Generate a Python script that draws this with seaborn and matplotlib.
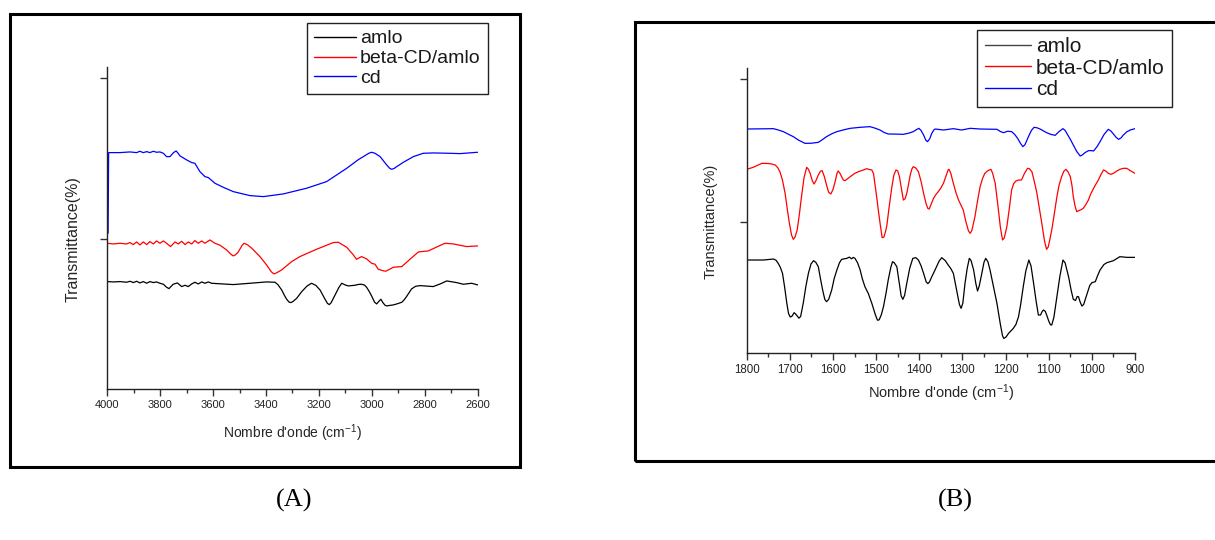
import matplotlib
matplotlib.use("Agg")
import matplotlib.pyplot as plt
from matplotlib.patches import Rectangle
from matplotlib.lines import Line2D
from matplotlib.ticker import MultipleLocator
import pandas as pd
import seaborn as sns

# ---------------- FTIR spectra, panel A (4000-2600 cm-1) ----------------
a_wn_amlo = [4000, 3977, 3952, 3927, 3914, 3902, 3889, 3877, 3864, 3851, 3839, 3826, 3814,
             3801, 3788, 3776, 3767, 3751, 3735, 3719, 3706, 3694, 3681, 3669, 3656, 3643,
             3631, 3618, 3606, 3587, 3524, 3461, 3398, 3366, 3355, 3341, 3330, 3322, 3313,
             3306, 3298, 3284, 3265, 3245, 3228, 3212, 3196, 3185, 3177, 3168, 3161, 3154,
             3139, 3125, 3114, 3100, 3089, 3064, 3050, 3039, 3028, 3020, 3010, 3001, 2990,
             2982, 2975, 2966, 2958, 2950, 2944, 2930, 2919, 2903, 2887, 2878, 2869, 2850,
             2835, 2818, 2768, 2740, 2717, 2680, 2654, 2623, 2600]
a_t_amlo = [36.87, 36.76, 36.87, 36.66, 36.97, 36.56, 36.97, 36.45, 36.87, 36.35, 36.87,
            36.56, 36.76, 36.35, 36.04, 35.11, 34.69, 36.04, 36.45, 35.32, 35.73, 35.32,
            36.14, 36.66, 36.14, 36.76, 36.35, 36.76, 36.35, 36.25, 35.94, 36.35, 36.76,
            36.66, 35.90, 34.28, 32.50, 31.38, 30.50, 30.35, 30.70, 31.69, 33.76, 35.50,
            36.35, 35.70, 34.28, 32.60, 31.38, 30.10, 29.72, 30.30, 32.73, 35.00, 36.35,
            35.80, 35.52, 35.73, 36.00, 36.04, 35.80, 35.11, 33.80, 32.42, 30.50, 29.93,
            30.60, 31.38, 30.30, 29.50, 29.31, 29.50, 29.62, 30.00, 30.45, 31.20, 32.21,
            34.59, 35.40, 35.62, 35.32, 36.20, 37.07, 36.56, 36.04, 36.35, 35.83]

a_wn_complex = [4000, 3977, 3952, 3927, 3914, 3902, 3889, 3877, 3864, 3851, 3839, 3826,
                3814, 3801, 3788, 3776, 3761, 3744, 3732, 3719, 3706, 3694, 3681, 3669,
                3656, 3643, 3631, 3612, 3593, 3574, 3549, 3532, 3524, 3515, 3505, 3490,
                3483, 3470, 3454, 3423, 3398, 3380, 3370, 3360, 3341, 3303, 3272, 3209,
                3146, 3127, 3095, 3070, 3058, 3039, 3020, 3001, 2988, 2976, 2960, 2948,
                2935, 2919, 2887, 2856, 2824, 2787, 2724, 2692, 2642, 2600]
a_t_complex = [48.77, 48.56, 48.77, 48.56, 48.98, 48.36, 49.18, 48.25, 49.18, 48.36, 49.29,
               48.56, 49.49, 48.77, 49.49, 48.77, 47.74, 49.18, 48.56, 49.39, 48.36, 49.18,
               48.56, 49.60, 48.77, 49.49, 48.77, 49.80, 48.77, 48.15, 46.70, 45.30, 44.84,
               45.20, 46.08, 48.20, 48.77, 48.30, 47.22, 44.63, 42.04, 39.90, 39.25, 39.60,
               40.49, 43.08, 44.63, 46.91, 48.98, 49.08, 47.53, 45.15, 43.80, 44.63, 43.91,
               42.56, 42.25, 40.70, 40.30, 40.08, 40.60, 41.32, 41.52, 43.80, 46.08, 46.39,
               48.77, 48.56, 47.74, 47.94]

a_wn_cd = [3997, 3995, 3952, 3914, 3889, 3877, 3864, 3851, 3839, 3826, 3814, 3801, 3788,
           3776, 3763, 3750, 3740, 3733, 3725, 3700, 3681, 3669, 3650, 3631, 3618, 3593,
           3562, 3524, 3461, 3410, 3335, 3247, 3171, 3095, 3050, 3032, 3012, 3001, 2988,
           2969, 2944, 2932, 2925, 2916, 2906, 2881, 2843, 2806, 2768, 2705, 2667, 2600]
a_t_cd = [51.87, 76.92, 76.92, 77.13, 76.92, 77.34, 76.92, 77.23, 76.92, 77.34, 77.03,
          77.13, 76.71, 75.68, 75.68, 76.90, 77.44, 76.80, 75.89, 74.65, 73.82, 73.61,
          71.02, 69.47, 69.16, 67.40, 66.16, 64.81, 63.57, 63.26, 64.09, 65.85, 67.92,
          72.06, 74.80, 75.68, 76.70, 77.03, 76.70, 75.68, 73.09, 72.00, 71.75, 72.00,
          72.57, 73.92, 75.68, 76.71, 76.82, 76.71, 76.61, 77.03]

# ---------------- FTIR spectra, panel B (1800-900 cm-1) ----------------
b_wn_amlo = [1800, 1761, 1745, 1738, 1732, 1727, 1722, 1717, 1712, 1707, 1703, 1699, 1695,
             1690, 1685, 1679, 1675, 1669, 1663, 1657, 1651, 1645, 1640, 1634, 1629, 1624,
             1619, 1615, 1610, 1603, 1597, 1591, 1585, 1580, 1568, 1562, 1557, 1553, 1549,
             1543, 1537, 1532, 1526, 1518, 1510, 1502, 1497, 1493, 1488, 1483, 1477, 1472,
             1466, 1462, 1458, 1452, 1447, 1442, 1438, 1434, 1429, 1422, 1415, 1408, 1402,
             1396, 1390, 1384, 1380, 1376, 1371, 1365, 1360, 1354, 1348, 1340, 1333, 1327,
             1321, 1316, 1312, 1307, 1303, 1299, 1294, 1289, 1284, 1280, 1274, 1269, 1265,
             1261, 1255, 1250, 1246, 1241, 1236, 1228, 1220, 1212, 1207, 1204, 1199, 1193,
             1182, 1176, 1170, 1165, 1159, 1153, 1146, 1141, 1135, 1129, 1124, 1119, 1115,
             1112, 1108, 1104, 1100, 1096, 1093, 1088, 1081, 1074, 1067, 1062, 1058, 1054,
             1048, 1043, 1038, 1034, 1031, 1027, 1023, 1019, 1012, 1005, 1000, 996, 992,
             987, 981, 972, 965, 950, 935, 919, 900]
b_t_amlo = [36.58, 36.58, 36.80, 36.93, 36.50, 35.41, 34.00, 31.91, 27.00, 21.40, 17.80,
            16.60, 16.90, 18.13, 17.40, 16.20, 16.80, 21.40, 27.20, 31.91, 35.20, 36.35,
            35.80, 34.24, 30.00, 26.07, 22.80, 21.98, 22.80, 26.07, 30.20, 33.08, 35.60,
            36.81, 37.16, 37.60, 37.00, 37.50, 37.16, 35.60, 33.08, 30.00, 27.24, 24.80,
            21.40, 17.50, 15.50, 15.60, 17.40, 20.23, 25.00, 29.57, 34.00, 36.00, 35.60,
            34.24, 29.00, 24.00, 22.80, 24.20, 28.40, 33.80, 37.16, 37.40, 36.58, 34.60,
            31.91, 28.90, 28.30, 29.00, 30.74, 32.60, 34.24, 36.20, 37.40, 36.40, 34.83,
            33.60, 31.91, 28.00, 24.90, 21.00, 19.65, 21.50, 28.40, 33.60, 37.16, 36.40,
            33.08, 28.40, 25.72, 27.50, 31.91, 35.80, 37.16, 36.00, 33.08, 27.30, 21.40,
            14.00, 10.00, 9.10, 9.60, 10.88, 12.64, 14.00, 16.72, 21.00, 27.24, 32.80,
            36.58, 34.50, 28.40, 22.00, 17.31, 17.30, 18.60, 19.06, 18.60, 17.00, 15.20,
            13.90, 13.80, 16.50, 23.73, 31.00, 36.58, 35.60, 33.20, 30.74, 26.00, 22.80,
            22.40, 23.80, 23.73, 21.80, 20.46, 21.00, 24.32, 27.60, 28.64, 28.80, 28.99,
            31.00, 33.08, 35.00, 35.65, 36.35, 37.75, 37.51, 37.51]

b_wn_complex = [1800, 1785, 1765, 1750, 1742, 1734, 1728, 1723, 1717, 1711, 1706, 1701,
                1696, 1692, 1688, 1683, 1678, 1673, 1667, 1661, 1657, 1653, 1648, 1644,
                1640, 1634, 1629, 1625, 1620, 1615, 1610, 1605, 1600, 1595, 1591, 1588,
                1584, 1580, 1576, 1572, 1566, 1560, 1550, 1541, 1530, 1522, 1516, 1510,
                1506, 1503, 1499, 1495, 1490, 1486, 1482, 1478, 1475, 1470, 1464, 1459,
                1454, 1450, 1446, 1441, 1437, 1433, 1429, 1425, 1421, 1417, 1414, 1408,
                1402, 1396, 1390, 1384, 1380, 1377, 1372, 1367, 1361, 1356, 1350, 1344,
                1338, 1333, 1331, 1327, 1321, 1315, 1309, 1304, 1298, 1292, 1286, 1282,
                1278, 1271, 1265, 1259, 1253, 1248, 1241, 1234, 1230, 1224, 1218, 1212,
                1207, 1203, 1197, 1191, 1186, 1181, 1176, 1170, 1163, 1156, 1149, 1145,
                1139, 1134, 1128, 1122, 1116, 1110, 1105, 1101, 1097, 1093, 1087, 1081,
                1076, 1070, 1065, 1060, 1055, 1050, 1046, 1043, 1039, 1035, 1030, 1025,
                1020, 1014, 1008, 1003, 998, 992, 985, 979, 973, 968, 962, 956, 950, 943,
                935, 927, 919, 910, 900]
b_t_complex = [68.35, 69.05, 70.45, 70.40, 70.22, 69.87, 68.90, 67.53, 64.50, 59.94, 54.50,
               49.43, 45.30, 43.82, 44.60, 47.09, 52.50, 58.77, 65.50, 69.05, 68.40, 66.95,
               64.40, 63.21, 64.20, 66.36, 67.70, 67.88, 65.80, 62.86, 60.30, 59.71, 61.30,
               64.03, 66.80, 67.77, 67.00, 65.78, 64.60, 64.38, 65.10, 65.78, 66.90, 67.53,
               68.10, 68.58, 68.30, 68.12, 66.80, 63.44, 59.00, 54.10, 48.50, 44.41, 44.60,
               46.70, 48.84, 55.00, 61.69, 66.30, 68.12, 67.80, 65.78, 61.30, 57.60, 58.00,
               59.94, 63.00, 66.36, 68.50, 69.28, 68.80, 67.53, 64.20, 59.94, 56.20, 54.60,
               54.45, 56.30, 58.19, 59.60, 60.52, 61.80, 63.44, 66.00, 68.20, 68.35, 67.00,
               63.44, 60.20, 57.60, 56.00, 54.10, 50.00, 46.80, 45.92, 47.00, 51.76, 57.30,
               62.28, 65.30, 66.95, 67.90, 68.35, 67.00, 63.44, 56.00, 48.00, 43.59, 44.30,
               48.26, 55.00, 61.11, 63.40, 64.26, 64.60, 64.61, 67.00, 68.70, 68.60, 67.53,
               64.50, 60.52, 55.00, 49.43, 43.50, 40.32, 41.20, 44.00, 47.09, 52.80, 58.77,
               62.80, 65.78, 67.70, 68.35, 67.40, 65.78, 62.60, 58.77, 55.50, 53.52, 53.90,
               54.20, 54.68, 56.00, 57.60, 59.60, 61.11, 62.80, 64.61, 66.50, 68.12, 67.80,
               66.95, 66.60, 66.95, 67.70, 68.35, 68.70, 68.70, 67.80, 66.95]

b_wn_cd = [1800, 1760, 1738, 1728, 1715, 1704, 1692, 1680, 1665, 1650, 1634, 1625, 1615,
           1603, 1591, 1575, 1560, 1537, 1525, 1514, 1503, 1491, 1482, 1472, 1455, 1437,
           1425, 1414, 1406, 1401, 1396, 1390, 1385, 1381, 1376, 1371, 1366, 1363, 1344,
           1321, 1302, 1282, 1259, 1220, 1212, 1205, 1195, 1186, 1179, 1172, 1166, 1160,
           1155, 1147, 1140, 1134, 1127, 1120, 1105, 1095, 1085, 1076, 1067, 1062, 1058,
           1050, 1043, 1035, 1027, 1022, 1016, 1008, 1000, 996, 988, 981, 972, 962, 956,
           950, 944, 938, 932, 927, 919, 911, 900]
b_t_cd = [82.48, 82.55, 82.60, 82.20, 81.55, 80.70, 79.80, 78.60, 77.46, 77.50, 77.81,
          78.70, 79.80, 80.80, 81.55, 82.20, 82.72, 83.07, 83.20, 83.30, 82.80, 82.13,
          81.30, 80.73, 80.70, 80.61, 81.00, 81.55, 82.30, 82.72, 82.00, 80.38, 78.60,
          78.04, 79.00, 80.96, 82.20, 82.48, 82.13, 82.60, 82.13, 82.72, 82.48, 82.37,
          81.60, 81.20, 81.70, 81.55, 80.60, 79.21, 77.60, 76.29, 77.00, 79.80, 82.00,
          83.07, 82.90, 82.48, 81.20, 80.60, 80.26, 81.60, 82.60, 82.00, 80.96, 78.90,
          76.88, 74.60, 73.02, 73.40, 74.19, 74.89, 74.90, 74.77, 76.30, 78.04, 80.50,
          82.37, 81.80, 80.73, 79.60, 78.86, 79.40, 80.38, 81.50, 82.13, 82.60]

samples = ["amlo", "beta-CD/amlo", "cd"]
colors = {"amlo": "#000000", "beta-CD/amlo": "#ff0000", "cd": "#0000ff"}

W, H = 1215, 540

sns.set_theme(style="white")
plt.rcParams["font.family"] = ["Liberation Sans", "DejaVu Sans"]
plt.rcParams["mathtext.fontset"] = "custom"
plt.rcParams["mathtext.rm"] = "Liberation Sans"
plt.rcParams["mathtext.it"] = "Liberation Sans:italic"
plt.rcParams["text.color"] = "#1a1a1a"


def long_frame(pairs):
    parts = []
    for name, (wn, t) in zip(samples, pairs):
        parts.append(pd.DataFrame({"wn": wn, "T": t, "sample": name}))
    return pd.concat(parts, ignore_index=True)


def px_axes(fig, left, top, right, bottom):
    return fig.add_axes([left / W, 1 - bottom / H, (right - left) / W, (bottom - top) / H])


def style_axes(ax, xlim, ylim, major, minor, fs):
    ax.set_xlim(*xlim)
    ax.set_ylim(*ylim)
    ax.xaxis.set_major_locator(MultipleLocator(major))
    ax.xaxis.set_minor_locator(MultipleLocator(minor))
    ax.set_yticks([50, 100])
    ax.set_yticklabels([])
    for s in ("top", "right"):
        ax.spines[s].set_visible(False)
    for s in ("left", "bottom"):
        ax.spines[s].set_color("#222222")
        ax.spines[s].set_linewidth(1.0)
    ax.tick_params(which="major", direction="out", length=5, width=1,
                   color="#333333", labelsize=fs, labelcolor="#222222", pad=3,
                   bottom=True, left=True)
    ax.tick_params(which="minor", direction="out", length=3, width=1,
                   color="#333333", bottom=True, left=False)


def add_legend(fig, ax, x, y, fs, amlo_handle_color, hl):
    handles = [Line2D([], [], color=amlo_handle_color, lw=1.0),
               Line2D([], [], color=colors["beta-CD/amlo"], lw=1.0),
               Line2D([], [], color=colors["cd"], lw=1.0)]
    leg = ax.legend(handles, samples, loc="upper left",
                    bbox_to_anchor=(x / W, 1 - y / H), bbox_transform=fig.transFigure,
                    frameon=True, fancybox=False, shadow=False, framealpha=1,
                    edgecolor="#222222", borderaxespad=0, borderpad=0.35,
                    labelspacing=0.12, handlelength=hl, handletextpad=0.2,
                    prop={"size": fs})
    leg.get_frame().set_linewidth(1.0)
    return leg


fig = plt.figure(figsize=(W / 100, H / 100), dpi=100)

# Panel A
ax_a = px_axes(fig, 107.3, 66.7, 477.7, 389.3)
df_a = long_frame([(a_wn_amlo, a_t_amlo), (a_wn_complex, a_t_complex), (a_wn_cd, a_t_cd)])
sns.lineplot(data=df_a, x="wn", y="T", hue="sample", palette=colors, estimator=None,
             sort=False, linewidth=0.9, legend=False, ax=ax_a)
style_axes(ax_a, (4000, 2600), (3.42, 103.6), 200, 100, 8)
ax_a.set_xlabel("Nombre d'onde (cm$^{-1}$)", fontsize=10, va="center")
ax_a.xaxis.set_label_coords(0.5, -0.1356)
ax_a.set_ylabel("Transmittance(%)", fontsize=11.5, va="center")
ax_a.yaxis.set_label_coords(-0.0926, 0.465)
add_legend(fig, ax_a, 306.7, 23, 14, "#000000", 2.2)

# Panel B
ax_b = px_axes(fig, 746.7, 68.3, 1135, 353)
df_b = long_frame([(b_wn_amlo, b_t_amlo), (b_wn_complex, b_t_complex), (b_wn_cd, b_t_cd)])
sns.lineplot(data=df_b, x="wn", y="T", hue="sample", palette=colors, estimator=None,
             sort=False, linewidth=0.9, legend=False, ax=ax_b)
style_axes(ax_b, (1800, 900), (4.0, 103.75), 100, 50, 8.3)
ax_b.set_xlabel("Nombre d'onde (cm$^{-1}$)", fontsize=10.5, va="center")
ax_b.xaxis.set_label_coords(0.5, -0.1416)
ax_b.set_ylabel("Transmittance(%)", fontsize=10.5, va="center")
ax_b.yaxis.set_label_coords(-0.092, 0.4636)
add_legend(fig, ax_b, 977.3, 30, 15, "#444444", 2.25)

for ax in (ax_a, ax_b):
    for line in ax.get_lines():
        line.set_solid_joinstyle("round")

# Outer frames around each panel
fig.add_artist(Rectangle((10 / W, 1 - 467 / H), 510 / W, 453 / H, transform=fig.transFigure,
                         fill=False, edgecolor="black", linewidth=2.2))
fig.add_artist(Rectangle((634.7 / W, 1 - 460.7 / H), 600 / W, 438.4 / H,
                         transform=fig.transFigure, fill=False, edgecolor="black",
                         linewidth=2.2))

# Panel captions
fig.text(294 / W, 1 - 500 / H, "(A)", ha="center", va="center", fontsize=19,
         family=["Liberation Serif", "DejaVu Serif"], color="black")
fig.text(955 / W, 1 - 500 / H, "(B)", ha="center", va="center", fontsize=19,
         family=["Liberation Serif", "DejaVu Serif"], color="black")

fig.savefig("out.png", dpi=100, facecolor="white")
